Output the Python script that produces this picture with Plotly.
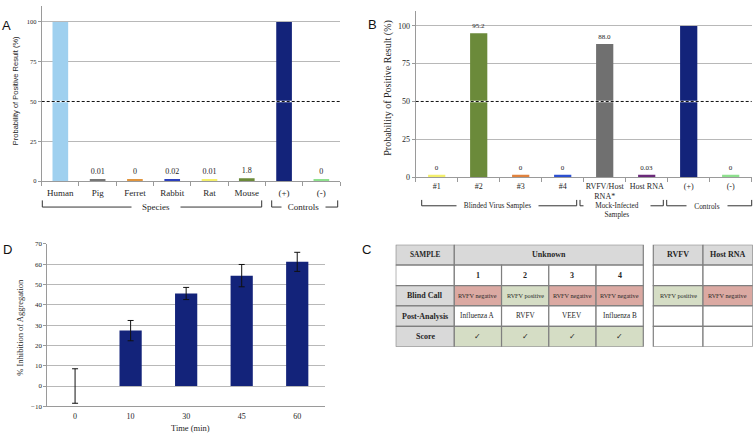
import plotly.graph_objects as go

W, H = 755, 440
SERIF = "Liberation Serif"
SANS = "Liberation Sans"
TXT = "#262626"
GRID = "#b8b8b8"
AXL = "#9a9a9a"


def px(x):
    return x / W


def py(y):
    return 1 - y / H


# ---------------- Panel A data ----------------
a_categories = ["Human", "Pig", "Ferret", "Rabbit", "Rat", "Mouse", "(+)", "(-)"]
a_heights = [100, 1.0, 1.0, 1.0, 1.0, 1.8, 100, 1.0]          # drawn bar heights
a_labels = ["", "0.01", "0", "0.02", "0.01", "1.8", "", "0"]   # printed values
a_colors = ["#9fd0ef", "#767676", "#e0953e", "#2c3fbd", "#f3ef6c",
            "#6b8a3a", "#13237a", "#8ee08e"]

# ---------------- Panel B data ----------------
b_categories = ["#1", "#2", "#3", "#4", "RVFV/Host<br>RNA*", "Host RNA", "(+)", "(-)"]
b_heights = [1.5, 95.2, 1.5, 1.5, 88.0, 1.5, 100, 1.5]
b_labels = ["0", "95.2", "0", "0", "88.0", "0.03", "", "0"]
b_colors = ["#f3ef6c", "#6b8a3a", "#e0823e", "#2c4fd0", "#707070",
            "#6b2a7a", "#13237a", "#8ee08e"]

# ---------------- Panel D data ----------------
d_times = ["0", "10", "30", "45", "60"]
d_values = [0, 27.3, 45.6, 54.4, 61.2]
d_errors = [8.5, 5.0, 3.0, 5.5, 4.7]

# ---------------- Panel C table data ----------------
sample_ids = ["1", "2", "3", "4"]
blind_calls = ["RVFV negative", "RVFV positive", "RVFV negative", "RVFV negative"]
post_analysis = ["Influenza A", "RVFV", "VEEV", "Influenza B"]
scores = ["✓", "✓", "✓", "✓"]
row_labels = ["SAMPLE", "", "Blind Call", "Post-Analysis", "Score"]
ctrl_headers = ["RVFV", "Host RNA"]
ctrl_calls = ["RVFV positive", "RVFV negative"]

fig = go.Figure()

fig.add_trace(go.Bar(
    x=a_categories, y=a_heights, marker=dict(color=a_colors, line=dict(width=0)),
    text=a_labels, textposition="outside", cliponaxis=False, width=0.42,
    textfont=dict(family=SERIF, size=8, color=TXT),
    outsidetextfont=dict(family=SERIF, size=8, color=TXT), xaxis="x", yaxis="y",
    showlegend=False, hoverinfo="skip"))

fig.add_trace(go.Bar(
    x=b_categories, y=b_heights, marker=dict(color=b_colors, line=dict(width=0)),
    text=b_labels, textposition="outside", cliponaxis=False, width=0.41,
    textfont=dict(family=SERIF, size=7, color=TXT),
    outsidetextfont=dict(family=SERIF, size=7, color=TXT), xaxis="x2", yaxis="y2",
    showlegend=False, hoverinfo="skip"))

fig.add_trace(go.Bar(
    x=d_times, y=d_values, marker=dict(color="#13237a", line=dict(width=0)),
    error_y=dict(type="data", array=d_errors, color="#111111", thickness=1, width=3),
    width=0.4, xaxis="x3", yaxis="y3", showlegend=False, hoverinfo="skip"))

shapes = []
annotations = []

# dashed 50% threshold lines
for yr in ["y", "y2"]:
    xr = "x domain" if yr == "y" else "x2 domain"
    shapes.append(dict(type="line", xref=xr, yref=yr, x0=0, x1=1, y0=50, y1=50,
                       line=dict(color="white", width=1.5)))
    shapes.append(dict(type="line", xref=xr, yref=yr, x0=0, x1=1, y0=50, y1=50,
                       line=dict(color="#111111", width=1, dash="3px,2px")))

# group brackets (left, right, top, bottom, text, text_x, text_y, box_w, size)
brackets = [
    (42.3, 261.7, 200.5, 207.3, "Species", 155.8, 207.5, 48, 9),
    (271.7, 337.7, 200.5, 207.3, "Controls", 303.5, 207.5, 43, 9),
    (421.7, 576.7, 200.0, 206.0, "Blinded Virus Samples", 497.5, 205.5, 81, 7.3),
    (580.0, 663.3, 200.0, 206.0, "Mock-Infected<br>Samples", 617.0, 210.0, 66, 7.3),
    (666.7, 751.7, 200.0, 206.0, "Controls", 706.7, 206.3, 40, 7.3),
]
for l, r, t, b, txt, tx, ty, bw, fs in brackets:
    shapes.append(dict(type="path", xref="paper", yref="paper",
                       path=f"M {px(l)},{py(t)} L {px(l)},{py(b)} L {px(r)},{py(b)} L {px(r)},{py(t)}",
                       line=dict(color="#333333", width=1)))
    annotations.append(dict(text=txt, x=px(tx), y=py(ty), xref="paper", yref="paper",
                            showarrow=False, xanchor="center", yanchor="middle",
                            bgcolor="white", width=bw, borderpad=0,
                            font=dict(family=SERIF, size=fs, color=TXT)))

# axis titles
annotations += [
    dict(text="Probability of Positive Result (%)", x=px(15), y=py(89), textangle=-90,
         font=dict(family=SANS, size=7.5, color=TXT)),
    dict(text="Probability of Positive Result (%)", x=px(388.5), y=py(86), textangle=-90,
         font=dict(family=SERIF, size=10, color=TXT)),
    dict(text="% Inhibition of Aggregation", x=px(20), y=py(330.5), textangle=-90,
         font=dict(family=SERIF, size=8.5, color=TXT)),
    dict(text="Time (min)", x=px(190), y=py(433.3),
         font=dict(family=SERIF, size=8.5, color=TXT)),
]
# panel letters
for letter, lx, ly in [("A", 6.5, 21.5), ("B", 372, 21), ("D", 7, 251), ("C", 366, 251)]:
    annotations.append(dict(text=letter, x=px(lx), y=py(ly),
                            font=dict(family=SANS, size=13, color="#111111")))
for a in annotations[len(brackets):]:
    a.update(xref="paper", yref="paper", showarrow=False, xanchor="center", yanchor="middle")

# ---------------- Panel C table (x4/y4) ----------------
GRAY = "#d9d9d9"
RED = "#dba9a2"
GREEN = "#d5ddc5"
WHITE = "#ffffff"
BORDER = "#7f7f7f"

main_w = [58.6, 47.25, 47.25, 47.25, 47.25]
gap_w = 10.0
ctrl_w = [49.7, 49.7]
edges = [0.0]
for w_ in main_w:
    edges.append(edges[-1] + w_)
ctrl_start = edges[-1] + gap_w
cedges = [ctrl_start]
for w_ in ctrl_w:
    cedges.append(cedges[-1] + w_)
total_w = cedges[-1]


def call_color(c):
    return GREEN if "positive" in c else RED


def cell(x0, x1, r, fill, txt="", bold=False, size=7.5):
    shapes.append(dict(type="rect", xref="x4", yref="y4", x0=x0, x1=x1, y0=r, y1=r + 1,
                       fillcolor=fill, line=dict(color=BORDER, width=1.2), layer="above"))
    if txt:
        annotations.append(dict(
            text=f"<b>{txt}</b>" if bold else txt, x=(x0 + x1) / 2, y=r + 0.5,
            xref="x4", yref="y4", showarrow=False, xanchor="center", yanchor="middle",
            font=dict(family=SERIF, size=size, color=TXT)))


# first column
for r, lab in enumerate(row_labels):
    fill = WHITE if r == 1 else GRAY
    cell(edges[0], edges[1], r, fill, lab, bold=True, size=7.3 if r == 0 else 8)
# header "Unknown"
cell(edges[1], edges[5], 0, GRAY, "Unknown", bold=True, size=8)
for i in range(4):
    x0, x1 = edges[i + 1], edges[i + 2]
    cell(x0, x1, 1, WHITE, sample_ids[i], bold=True, size=8)
    cell(x0, x1, 2, call_color(blind_calls[i]), blind_calls[i], size=6.2)
    cell(x0, x1, 3, WHITE, post_analysis[i], size=7.2)
    cell(x0, x1, 4, GREEN, scores[i], size=7.5)
# control table
for j in range(2):
    x0, x1 = cedges[j], cedges[j + 1]
    cell(x0, x1, 0, GRAY, ctrl_headers[j], bold=True, size=8)
    cell(x0, x1, 1, WHITE)
    cell(x0, x1, 2, call_color(ctrl_calls[j]), ctrl_calls[j], size=6.2)
    cell(x0, x1, 3, WHITE)
    cell(x0, x1, 4, WHITE)

common_cat = dict(type="category", showline=True, linecolor=AXL, linewidth=1,
                  showgrid=False, zeroline=False, fixedrange=True, tickangle=0)
common_val = dict(showline=True, linecolor=AXL, linewidth=1, showgrid=True,
                  gridcolor=GRID, gridwidth=1, zeroline=False, ticks="outside",
                  ticklen=3, tickcolor=AXL, fixedrange=True)

fig.update_layout(
    width=W, height=H, margin=dict(l=0, r=0, t=0, b=0),
    paper_bgcolor="white", plot_bgcolor="white", showlegend=False,
    xaxis=dict(**common_cat, domain=[px(41.7), px(340)], anchor="y",
               tickson="boundaries", ticks="outside", ticklen=4, tickcolor=AXL,
               ticklabelstandoff=3,
               tickfont=dict(family=SERIF, size=9, color=TXT)),
    yaxis=dict(**common_val, domain=[py(180.7), py(2.1)], range=[0, 110], anchor="x",
               tickvals=[0, 25, 50, 75, 100], tickfont=dict(family=SERIF, size=6.5, color=TXT)),
    xaxis2=dict(**common_cat, domain=[px(415.7), px(751.7)], anchor="y2",
                tickson="boundaries", ticks="outside", ticklen=4, tickcolor=AXL,
                ticklabelstandoff=1,
                tickfont=dict(family=SERIF, size=8, color=TXT)),
    yaxis2=dict(**common_val, domain=[py(176.7), py(6.9)], range=[0, 110], anchor="x2",
                tickvals=[0, 25, 50, 75, 100], tickfont=dict(family=SERIF, size=8, color=TXT)),
    xaxis3=dict(**common_cat, domain=[px(47.3), px(325)], anchor="y3",
                ticklabelstandoff=2,
                tickfont=dict(family=SERIF, size=8, color=TXT)),
    yaxis3=dict(**common_val, domain=[py(410.7), py(245)], range=[-10, 70], anchor="x3",
                dtick=10, tickfont=dict(family=SERIF, size=7, color=TXT)),
    xaxis4=dict(domain=[px(395.7), px(752.7)], range=[0, total_w], visible=False,
                fixedrange=True, anchor="y4"),
    yaxis4=dict(domain=[py(350), py(245.7)], range=[5, 0], visible=False,
                fixedrange=True, anchor="x4"),
    shapes=shapes, annotations=annotations,
)

fig.write_html("out.html", config={"displayModeBar": False},
               post_script="document.body.style.margin='0';document.body.style.overflow='hidden';")
